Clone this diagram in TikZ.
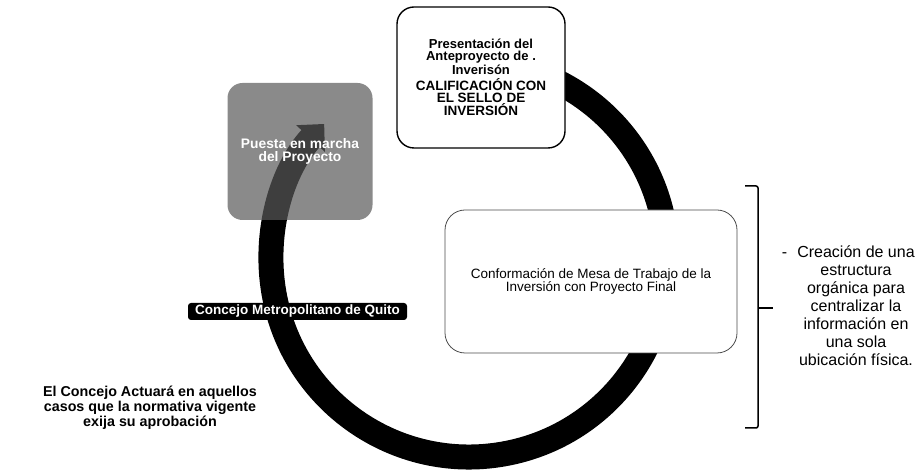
\documentclass[tikz,border=0pt]{standalone}
\usepackage{fontspec}
\setmainfont{Liberation Sans}
\usetikzlibrary{positioning}
\usetikzlibrary{backgrounds}
\usetikzlibrary{calc}
\usetikzlibrary{arrows.meta}
\tikzset{every picture/.style={line width=1pt},
  stagebox/.style={draw, fill=white, align=center, inner sep=0pt},
  ringband/.style={line width=25pt, black},
  darklabel/.style={fill=black, rounded corners=3pt, text=white, inner sep=0pt, font=\bfseries\fontsize{13.5}{14}\selectfont}}

\begin{document}
\begin{tikzpicture}[x=1pt,y=1pt]
\useasboundingbox (0,0) rectangle (921,471);
% the ring
\coordinate (hub) at (469,212);
\draw[ringband, -{Triangle[width=38pt,length=20pt]}] (hub) ++(100:198) arc[start angle=100, end angle=-223, radius=198pt];
% stages of the cycle
\node[fill=black!65, fill opacity=0.7, text opacity=1, rounded corners=15pt, minimum width=145pt, minimum height=137pt, inner sep=0pt, align=center, text=white, font=\bfseries\fontsize{13.8}{13}\selectfont] (marcha) at (300,319.5) {Puesta en marcha\\del Proyecto};
\node[stagebox, line width=1.4pt, rounded corners=17pt, minimum width=168pt, minimum height=141pt] (antep) at (481,393.5) {\bfseries\fontsize{13}{13.5}\selectfont Presentación del\\ \bfseries\fontsize{13}{13.5}\selectfont Anteproyecto de .\\ \bfseries\fontsize{13}{13.5}\selectfont Inverisón\\[3pt] \bfseries\fontsize{13.5}{13}\selectfont CALIFICACIÓN CON\\ \bfseries\fontsize{13.5}{13}\selectfont EL SELLO DE\\ \bfseries\fontsize{13.5}{13}\selectfont INVERSIÓN};
\node[stagebox, draw=black!70, line width=0.8pt, rounded corners=20pt, minimum width=292pt, minimum height=143pt, font=\fontsize{13.5}{13}\selectfont] (mesa) at (591,189.5) {Conformación de Mesa de Trabajo de la\\Inversión con Proyecto Final};
\node[darklabel, minimum width=219pt, minimum height=17pt] (concejo) at (297.5,159.5) {Concejo Metropolitano de Quito};
% notes
\node[align=center, font=\bfseries\fontsize{14.3}{15}\selectfont] (actua) at (150,63) {El Concejo Actuará en aquellos\\casos que la normativa vigente\\exija su aprobación};
\node[align=center, font=\fontsize{16}{18}\selectfont] (centra) at (856,165) {\llap{-\hspace{10pt}}Creación de una\\estructura\\orgánica para\\centralizar la\\información en\\una sola\\ubicación física.};
% brace
\coordinate (bt) at (745,285);
\coordinate (bb) at (745,43);
\coordinate (bm) at (758,163);
\draw[line width=1.5pt, rounded corners=2pt] (bt) -- ++(13,0) -- ($(bb)+(13,0)$) -- (bb);
\draw[line width=1.5pt] (bm) -- ++(15,0);
\end{tikzpicture}
\end{document}
